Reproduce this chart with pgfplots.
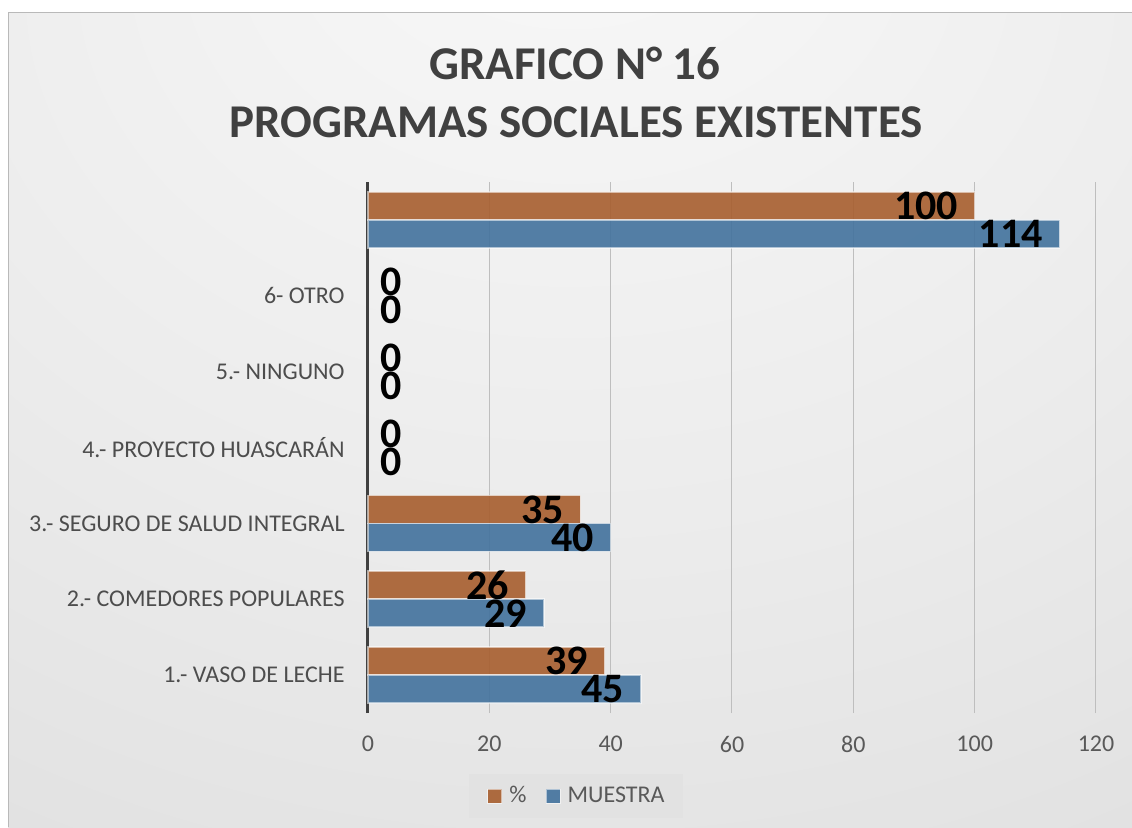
\documentclass[border=0pt]{standalone}
\usepackage{pgfplots}
\pgfplotsset{compat=1.18}
\usepackage{fontspec}
\setmainfont{Carlito}
\definecolor{barO}{RGB}{167,94,46}
\definecolor{barB}{RGB}{66,114,157}
\definecolor{tickc}{RGB}{89,89,89}
\definecolor{catc}{RGB}{77,77,77}
\definecolor{ttl}{RGB}{64,64,64}
\definecolor{bgA}{RGB}{249,249,249}
\definecolor{bgB}{RGB}{236,236,236}
\definecolor{bgC}{RGB}{220,220,220}
\definecolor{bgD}{RGB}{203,203,203}
\definecolor{gridc}{RGB}{190,190,190}
\definecolor{legbg}{RGB}{226,226,226}
\pgfdeclareradialshading{bgshade}{\pgfpoint{0bp}{35bp}}{color(0bp)=(bgA); color(30bp)=(bgB); color(60bp)=(bgC); color(95bp)=(bgD)}

\begin{document}
\begin{tikzpicture}
\useasboundingbox (0,0) rectangle (566pt,-413.5pt);
\fill[white] (0,0) rectangle (566pt,-413.5pt);
\shade[shading=bgshade] (4pt,-6pt) rectangle (566pt,-413.5pt);
\draw[gray!55, line width=0.5pt] (4pt,-413.5pt) -- (4pt,-6pt) -- (566pt,-6pt);
\node[anchor=base, inner sep=0pt, text=ttl, font=\bfseries\fontsize{23.5}{28}\selectfont] at (287.5pt,-39.5pt) {GRAFICO N° 16};
\node[anchor=base, inner sep=0pt, text=ttl, font=\bfseries\fontsize{23.5}{28}\selectfont] at (288pt,-68.5pt) {PROGRAMAS SOCIALES EXISTENTES};

\begin{axis}[
  at={(184pt,-356.5pt)}, anchor=south west,
  width=364pt, height=265.5pt, scale only axis,
  clip=false,
  xmin=0, xmax=120, ymin=-0.5, ymax=6.5,
  xtick={0,20,...,120}, ytick={0,1,...,6},
  yticklabels={1.- VASO DE LECHE, 2.- COMEDORES POPULARES, 3.- SEGURO DE SALUD INTEGRAL, 4.- PROYECTO HUASCARÁN, 5.- NINGUNO, 6- OTRO, {}},
  major tick length=0pt,
  tick style={draw=none},
  axis lines*=left,
  x axis line style={draw=none},
  y axis line style={draw=ttl, line width=1.5pt},
  xmajorgrids, grid style={draw=gridc, line width=0.5pt},
  /pgf/number format/assume math mode=true,
  xticklabel style={font=\fontsize{12}{14}\selectfont, text=tickc, inner sep=0pt, anchor=north, yshift=-11.25pt},
  yticklabel style={font=\fontsize{12}{14}\selectfont, text=catc, inner sep=0pt, anchor=east, xshift=-11.5pt},
  xbar, bar width=14pt,
  every node near coord/.append style={font=\bfseries\fontsize{21}{25}\selectfont, text=black, inner sep=0pt, text opacity=1},
  legend image code/.code={\draw[#1, line width=0.5pt] (0pt,-3.5pt) rectangle (7pt,3.5pt);},
  legend columns=2,
  legend style={at={(0.2857,-0.1563)}, anchor=center, draw=none, fill=legbg,
    font=\fontsize{12}{14}\selectfont, text=tickc, inner xsep=9pt, inner ysep=6pt,
    nodes={inner sep=0pt},
    /tikz/every odd column/.append style={column sep=3.5pt},
    /tikz/every even column/.append style={column sep=9.5pt}},
]
\addplot[bar shift=7pt, fill=barO, draw=white, draw opacity=0.55, line width=0.75pt, fill opacity=0.9,
  nodes near coords, every node near coord/.append style={anchor=east, xshift=-8pt}]
  coordinates {(39,0) (26,1) (35,2) (100,6)};
\addlegendentry{\%}
\addplot[bar shift=-7pt, fill=barB, draw=white, draw opacity=0.55, line width=0.75pt, fill opacity=0.9,
  nodes near coords, every node near coord/.append style={anchor=east, xshift=-8pt}]
  coordinates {(45,0) (29,1) (40,2) (114,6)};
\addlegendentry{MUESTRA}
\addplot[bar shift=7pt, draw=none, fill=none, forget plot,
  nodes near coords, every node near coord/.append style={anchor=west, xshift=6pt}]
  coordinates {(0,3) (0,4) (0,5)};
\addplot[bar shift=-7pt, draw=none, fill=none, forget plot,
  nodes near coords, every node near coord/.append style={anchor=west, xshift=6pt}]
  coordinates {(0,3) (0,4) (0,5)};
\end{axis}
\end{tikzpicture}
\end{document}
